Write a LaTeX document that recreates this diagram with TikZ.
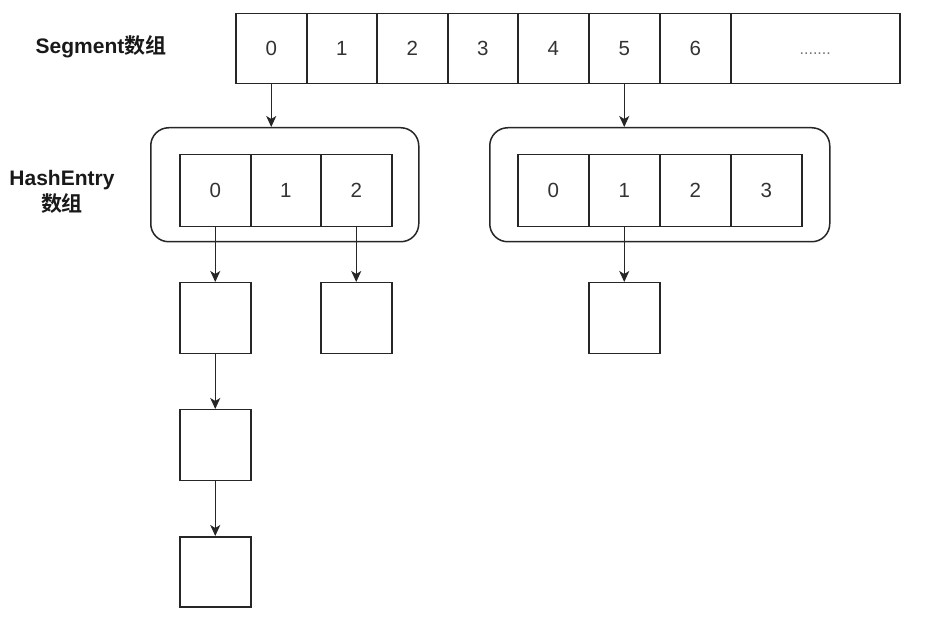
\documentclass[tikz,border=0pt]{standalone}
\usepackage{fontspec}
\setmainfont{Liberation Sans}
\newfontfamily\cjk{Noto Sans CJK SC}[BoldFont={Noto Sans CJK SC Bold}]
\usetikzlibrary{arrows.meta}
\begin{document}
\begin{tikzpicture}[x=1pt,y=-1pt,
  cell/.style={draw=black!85,line width=1.5pt,inner sep=0pt,font=\fontsize{20.5}{24}\selectfont,text=black!80},
  grp/.style={draw=black!85,line width=1.5pt,rounded corners=18pt},
  lbl/.style={font=\fontsize{21}{25}\selectfont\bfseries,text=black!90,align=center,inner sep=0pt},
  arr/.style={draw=black!85,line width=1.5pt,-{Stealth[length=11pt,width=10pt,inset=3pt]}}]
\useasboundingbox (0,0) rectangle (951,617);
\fill[white] (0,0) rectangle (951,617);
% Segment array
\node[lbl] (seglbl) at (101,47) {Segment{\cjk\bfseries 数组}};
\foreach \i/\a/\b/\t in {0/235/306/0,1/306/376/1,2/376/447/2,3/447/517/3,4/517/588/4,5/588/659/5,6/659/730/6}{
  \node[cell,minimum width={\b-\a},minimum height=70,anchor=north west] (s\i) at (\a,13) {\t};
}
\node[cell,minimum width=169,minimum height=70,anchor=north west,text=black!55,font=\fontsize{16}{20}\selectfont] (s7) at (730,13) {\vphantom{0}.......};
% HashEntry label
\node[lbl] (helbl) at (62,192) {HashEntry\\[1pt]{\cjk\bfseries 数组}};
% Group 1
\node[grp,minimum width=268,minimum height=114,anchor=north west] (g1) at (150,127) {};
\foreach \i/\a/\b in {0/179/250,1/250/320,2/320/391}{
  \node[cell,minimum width={\b-\a},minimum height=72,anchor=north west] (h1\i) at (\a,154) {\i};
}
% Group 2
\node[grp,minimum width=340,minimum height=114,anchor=north west] (g2) at (489,127) {};
\foreach \i/\a/\b in {0/517/588,1/588/659,2/659/730,3/730/801}{
  \node[cell,minimum width={\b-\a},minimum height=72,anchor=north west] (h2\i) at (\a,154) {\i};
}
% Entry boxes
\node[cell,minimum width=71,minimum height=71,anchor=north west] (b1) at (179,282) {};
\node[cell,minimum width=71,minimum height=71,anchor=north west] (b2) at (179,409) {};
\node[cell,minimum width=71,minimum height=70,anchor=north west] (b3) at (179,536) {};
\node[cell,minimum width=71,minimum height=71,anchor=north west] (c1) at (320,282) {};
\node[cell,minimum width=71,minimum height=71,anchor=north west] (d1) at (588,282) {};
% Arrows
\draw[arr] (s0.south) -- (s0.south |- g1.north);
\draw[arr] (s5.south) -- (s5.south |- g2.north);
\draw[arr] (h10.south) -- (b1.north);
\draw[arr] (h12.south) -- (c1.north);
\draw[arr] (h21.south) -- (d1.north);
\draw[arr] (b1.south) -- (b2.north);
\draw[arr] (b2.south) -- (b3.north);
\end{tikzpicture}
\end{document}
